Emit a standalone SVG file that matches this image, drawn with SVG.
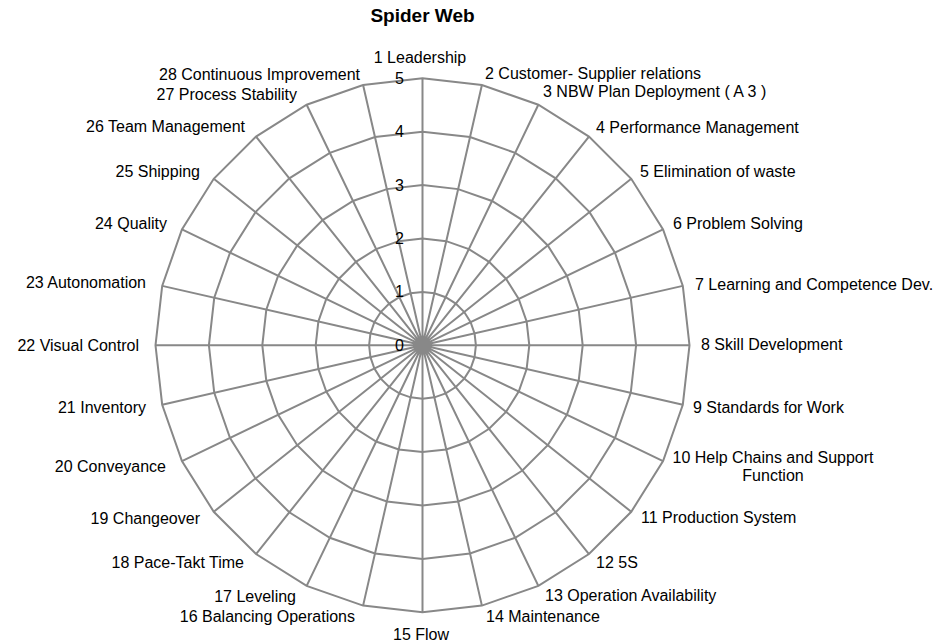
<svg xmlns="http://www.w3.org/2000/svg" xmlns:xlink="http://www.w3.org/1999/xlink" width="952" height="642" viewBox="0 0 952 642">
<style>
.grid{fill:none;stroke:#888888;stroke-width:2;stroke-linejoin:miter;vector-effect:non-scaling-stroke}
.lbl{font-family:"Liberation Sans",Arial,sans-serif;font-size:16px;fill:#000}
.s{text-anchor:start}
.e{text-anchor:end}
.m{text-anchor:middle}
.title{font-family:"Liberation Sans",Arial,sans-serif;font-size:19px;font-weight:bold;fill:#000;text-anchor:middle}
</style>
<defs>
<polygon id="ring" class="grid" points="0,-267 59.41,-260.31 115.85,-240.56 166.47,-208.75 208.75,-166.47 240.56,-115.85 260.31,-59.41 267,0 260.31,59.41 240.56,115.85 208.75,166.47 166.47,208.75 115.85,240.56 59.41,260.31 0,267 -59.41,260.31 -115.85,240.56 -166.47,208.75 -208.75,166.47 -240.56,115.85 -260.31,59.41 -267,0 -260.31,-59.41 -240.56,-115.85 -208.75,-166.47 -166.47,-208.75 -115.85,-240.56 -59.41,-260.31"/>
</defs>
<rect width="952" height="642" fill="#ffffff"/>
<text class="title" x="422.5" y="22">Spider Web</text>
<g id="grid" transform="translate(422.5 345.3)">
<use xlink:href="#ring" href="#ring" transform="scale(0.2)"/>
<use xlink:href="#ring" href="#ring" transform="scale(0.4)"/>
<use xlink:href="#ring" href="#ring" transform="scale(0.6)"/>
<use xlink:href="#ring" href="#ring" transform="scale(0.8)"/>
<use xlink:href="#ring" href="#ring"/>
</g>
<g id="connectors" transform="translate(422.5 345.3)">
<path class="grid" d="M0,0L0,-267M0,0L59.41,-260.31M0,0L115.85,-240.56M0,0L166.47,-208.75M0,0L208.75,-166.47M0,0L240.56,-115.85M0,0L260.31,-59.41M0,0L267,0M0,0L260.31,59.41M0,0L240.56,115.85M0,0L208.75,166.47M0,0L166.47,208.75M0,0L115.85,240.56M0,0L59.41,260.31M0,0L0,267M0,0L-59.41,260.31M0,0L-115.85,240.56M0,0L-166.47,208.75M0,0L-208.75,166.47M0,0L-240.56,115.85M0,0L-260.31,59.41M0,0L-267,0M0,0L-260.31,-59.41M0,0L-240.56,-115.85M0,0L-208.75,-166.47M0,0L-166.47,-208.75M0,0L-115.85,-240.56M0,0L-59.41,-260.31"/>
</g>
<g id="scale">
<text class="lbl e" x="404" y="84">5</text>
<text class="lbl e" x="404" y="137">4</text>
<text class="lbl e" x="404" y="190.5">3</text>
<text class="lbl e" x="404" y="244">2</text>
<text class="lbl e" x="404" y="297">1</text>
<text class="lbl e" x="404" y="351">0</text>
</g>
<g id="axis-labels">
<g id="a1"><text class="lbl m" x="420" y="63">1 Leadership</text></g>
<g id="a2"><text class="lbl s" x="485" y="79">2 Customer- Supplier relations</text></g>
<g id="a3"><text class="lbl s" x="543" y="97">3 NBW Plan Deployment ( A 3 )</text></g>
<g id="a4"><text class="lbl s" x="596" y="133">4 Performance Management</text></g>
<g id="a5"><text class="lbl s" x="640" y="177">5 Elimination of waste</text></g>
<g id="a6"><text class="lbl s" x="673" y="229">6 Problem Solving</text></g>
<g id="a7"><text class="lbl s" x="695" y="290">7 Learning and Competence Dev.</text></g>
<g id="a8"><text class="lbl s" x="701" y="350">8 Skill Development</text></g>
<g id="a9"><text class="lbl s" x="693" y="413">9 Standards for Work</text></g>
<g id="a10"><text class="lbl m" x="773" y="463">10 Help Chains and Support</text><text class="lbl m" x="773" y="481">Function</text></g>
<g id="a11"><text class="lbl s" x="641" y="523">11 Production System</text></g>
<g id="a12"><text class="lbl s" x="596" y="568">12 5S</text></g>
<g id="a13"><text class="lbl s" x="545" y="601">13 Operation Availability</text></g>
<g id="a14"><text class="lbl s" x="486" y="622">14 Maintenance</text></g>
<g id="a15"><text class="lbl s" x="393" y="640">15 Flow</text></g>
<g id="a16"><text class="lbl e" x="355" y="622">16 Balancing Operations</text></g>
<g id="a17"><text class="lbl e" x="296" y="602">17 Leveling</text></g>
<g id="a18"><text class="lbl e" x="244" y="568">18 Pace-Takt Time</text></g>
<g id="a19"><text class="lbl e" x="200" y="524">19 Changeover</text></g>
<g id="a20"><text class="lbl e" x="166" y="472">20 Conveyance</text></g>
<g id="a21"><text class="lbl e" x="146" y="413">21 Inventory</text></g>
<g id="a22"><text class="lbl e" x="139" y="351">22 Visual Control</text></g>
<g id="a23"><text class="lbl e" x="146" y="288">23 Autonomation</text></g>
<g id="a24"><text class="lbl e" x="167" y="229">24 Quality</text></g>
<g id="a25"><text class="lbl e" x="200" y="177">25 Shipping</text></g>
<g id="a26"><text class="lbl e" x="245" y="132">26 Team Management</text></g>
<g id="a27"><text class="lbl e" x="297" y="100">27 Process Stability</text></g>
<g id="a28"><text class="lbl e" x="360" y="80">28 Continuous Improvement</text></g>
</g>
</svg>
